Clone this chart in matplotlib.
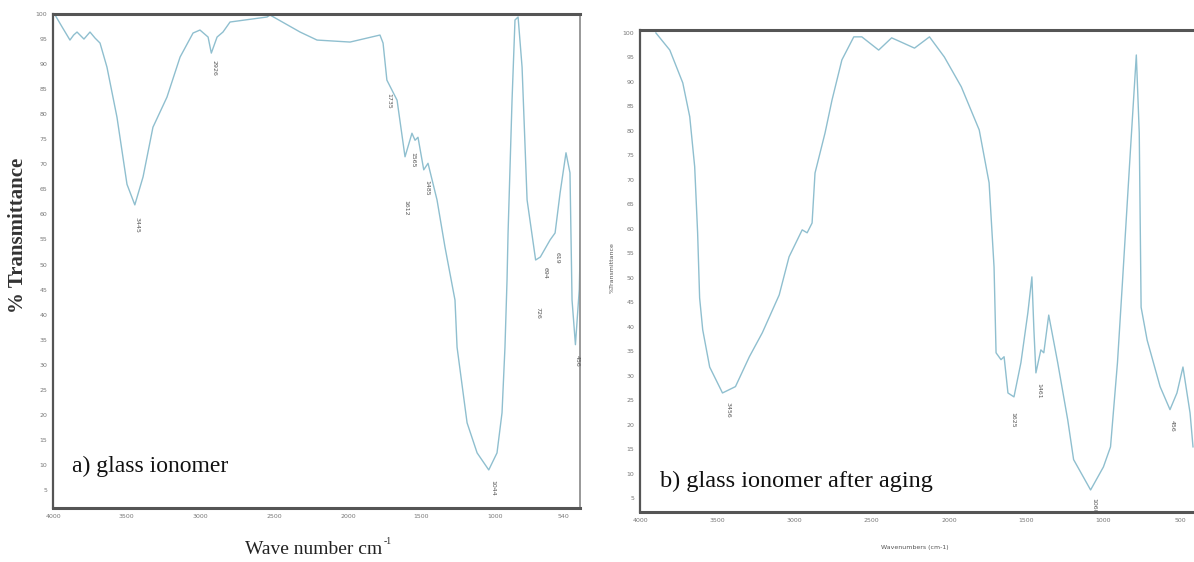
import numpy as np
import matplotlib
matplotlib.use("Agg")
import matplotlib.pyplot as plt

# --- a) glass ionomer (wavenumber cm-1, % transmittance)
wn_a = [3986, 3940, 3885, 3860, 3837, 3790, 3749, 3715, 3681, 3634, 3566, 3498,
        3445, 3389, 3322, 3227, 3138, 3050, 3003, 2948, 2926, 2887, 2847, 2799,
        2548, 2528, 2324, 2209, 1985, 1782, 1761, 1735, 1666, 1612, 1565, 1544,
        1524, 1485, 1456, 1395, 1341, 1273, 1259, 1191, 1123, 1044, 988, 954,
        934, 920, 913, 886, 866, 845, 818, 784, 726, 694, 628, 594, 560, 520,
        493, 479, 456, 430, 420]
tr_a = [99.8, 97.5, 94.8, 95.8, 96.4, 95.0, 96.4, 95.2, 94.2, 89.4, 79.4, 66.0,
        61.9, 67.5, 77.4, 83.4, 91.4, 96.2, 96.8, 95.4, 92.2, 95.4, 96.4, 98.4,
        99.4, 99.8, 96.4, 94.8, 94.4, 95.8, 94.2, 86.8, 82.8, 71.5, 76.2, 74.8,
        75.4, 68.9, 70.2, 62.9, 53.5, 42.9, 33.5, 18.4, 12.4, 9.0, 12.4, 20.4,
        33.5, 46.9, 56.3, 82.8, 98.8, 99.4, 89.4, 62.9, 50.9, 51.5, 54.9, 56.3,
        64.3, 72.3, 68.3, 42.9, 34.0, 45.0, 58.0]
peaks_a = ["3445", "2926", "1735", "1612", "1565", "1485", "1044", "726", "694", "619", "456"]
peaks_a_wn = [3430, 2908, 1720, 1605, 1558, 1463, 1015, 710, 662, 581, 445]
peaks_a_tr = [59.5, 90.8, 84.2, 62.9, 72.5, 66.9, 7.0, 41.5, 49.5, 52.5, 31.9]

# --- b) glass ionomer after aging
wn_b = [3897, 3807, 3723, 3678, 3646, 3627, 3614, 3594, 3549, 3466, 3382, 3292,
        3208, 3099, 3035, 2950, 2918, 2886, 2867, 2802, 2757, 2693, 2616, 2564,
        2455, 2371, 2307, 2223, 2126, 2030, 1920, 1804, 1740, 1708, 1695, 1663,
        1643, 1618, 1579, 1534, 1489, 1463, 1450, 1437, 1405, 1386, 1354, 1296,
        1231, 1193, 1083, 1000, 954, 909, 877, 825, 787, 768, 756, 717, 633,
        569, 524, 485, 439, 420]
tr_b = [100.0, 96.5, 89.8, 82.9, 72.7, 59.2, 45.9, 39.4, 31.8, 26.5, 27.8, 33.9,
        38.8, 46.5, 54.3, 59.8, 59.2, 61.2, 71.4, 79.6, 86.3, 94.5, 99.2, 99.2,
        96.5, 99.0, 98.1, 96.9, 99.2, 95.1, 89.0, 80.2, 69.4, 52.2, 34.7, 33.3,
        33.9, 26.5, 25.7, 32.7, 42.9, 50.2, 39.4, 30.6, 35.3, 34.7, 42.4, 32.7,
        21.0, 12.9, 6.7, 11.4, 15.5, 32.7, 49.0, 76.1, 95.5, 79.6, 44.0, 37.3,
        27.8, 23.1, 26.5, 31.8, 22.4, 15.5]
peaks_b = ["3456", "1625", "1461", "1060", "456"]
peaks_b_wn = [3433, 1585, 1418, 1064, 555]
peaks_b_tr = [24.7, 22.7, 28.6, 5.1, 21.0]

yticks = [100, 95, 90, 85, 80, 75, 70, 65, 60, 55, 50, 45, 40, 35, 30, 25, 20, 15, 10, 5]
xticks_a = [4000, 3500, 3000, 2500, 2000, 1500, 1000, 540]
xticks_b = [4000, 3500, 3000, 2500, 2000, 1500, 1000, 500]

W, H = 1194, 562
line_col = "#8fbfcf"
serif = ["Liberation Serif", "DejaVu Serif"]

fig = plt.figure(figsize=(W / 100, H / 100), dpi=100)


def box(x0, y0, x1, y1):
    return [x0 / W, 1 - y1 / H, (x1 - x0) / W, (y1 - y0) / H]


def style(ax, xticks):
    ax.set_yticks(yticks)
    ax.set_xticks(xticks)
    ax.set_xticklabels([str(t) for t in xticks])
    ax.tick_params(length=0, labelsize=4.5, labelcolor="#777777", pad=4)
    for s, lw in [("top", 2.2), ("left", 1.6), ("bottom", 2.2), ("right", 1.2)]:
        ax.spines[s].set_linewidth(lw)
        ax.spines[s].set_color("#555555")
    ax.spines["right"].set_color("#888888")


# panel a
ax1 = fig.add_axes(box(53, 14, 580, 508))
ax1.plot(wn_a, tr_a, color=line_col, lw=1.0)
ax1.set_xlim(4000, 425)
ax1.set_ylim(1.4, 100)
style(ax1, xticks_a)
for lab, w, t in zip(peaks_a, peaks_a_wn, peaks_a_tr):
    ax1.text(w, t, lab, rotation=-90, fontsize=4.5, color="#555555",
             ha="center", va="top")
fig.text(72 / W, 1 - 466 / H, "a) glass ionomer", fontsize=17, family=serif,
         color="#111111", va="center")
fig.text(18 / W, 1 - 235 / H, "% Transmittance", rotation=90, family=serif,
         fontsize=15, fontweight="bold", color="#333333", ha="center", va="center")
fig.text(245 / W, 1 - 549 / H, "Wave number cm", family=serif,
         fontsize=14, color="#222222", ha="left", va="center")
fig.text(384 / W, 1 - 541 / H, "-1", family=serif,
         fontsize=7, color="#222222", ha="left", va="center")

# panel b
ax2 = fig.add_axes(box(640, 30, 1210, 512))
ax2.plot(wn_b, tr_b, color=line_col, lw=1.0)
ax2.set_xlim(4000, 310)
ax2.set_ylim(2.2, 100.6)
style(ax2, xticks_b)
ax2.spines["right"].set_visible(False)
for lab, w, t in zip(peaks_b, peaks_b_wn, peaks_b_tr):
    ax2.text(w, t, lab, rotation=-90, fontsize=4.5, color="#555555",
             ha="center", va="top")
fig.text(660 / W, 1 - 481 / H, "b) glass ionomer after aging", fontsize=17.5,
         family=serif, color="#111111", va="center")
fig.text(612 / W, 1 - 268 / H, "%Transmittance", rotation=90, fontsize=4.5,
         color="#555555", ha="center", va="center")
fig.text(915 / W, 1 - 548 / H, "Wavenumbers (cm-1)", fontsize=4.5,
         color="#555555", ha="center", va="center")

fig.savefig("out.png", dpi=100)
